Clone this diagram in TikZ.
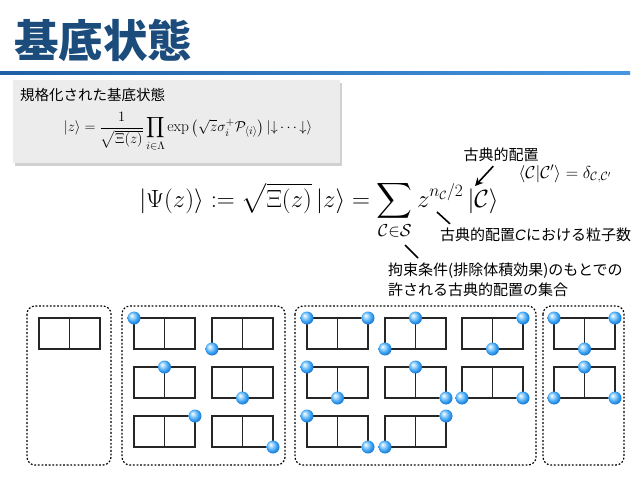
\documentclass[tikz,border=0pt]{standalone}
\usepackage{amsmath}
\usepackage{fontspec}
\newfontfamily\jpfont{Noto Sans CJK JP}
\newfontfamily\latinfont{Liberation Sans}
\usetikzlibrary{arrows.meta}

\definecolor{titleblue}{RGB}{27,76,124}
\definecolor{ruledark}{RGB}{30,95,165}
\definecolor{rulelight}{RGB}{70,150,225}
\definecolor{boxgray}{RGB}{236,236,236}
\definecolor{ballblue}{RGB}{55,160,242}
\definecolor{ballhigh}{RGB}{190,228,255}
\definecolor{balldark}{RGB}{20,110,200}

\pgfdeclareradialshading{sphere}{\pgfqpoint{-10bp}{10bp}}{%
    color(0bp)=(white); color(6bp)=(ballhigh); color(20bp)=(ballblue);
    color(30bp)=(balldark); color(50bp)=(balldark)}

\tikzset{
    jptext/.style={font=\jpfont\fontsize{15}{20}\selectfont, inner sep=0pt},
    dashbox/.style={line width=1.2pt, dash pattern=on 1.8pt off 1.8pt, rounded corners=8pt},
    cellline/.style={line width=1.3pt, black!85},
    pointer/.style={line width=1.6pt}
}

% two sites side by side
\newcommand{\unitpair}[2]{%
    \draw[cellline] (#1,#2) rectangle ++(61,31);
    \draw[cellline] (#1+30.5,#2) -- ++(0,31);
}
\newcommand{\particle}[2]{\shade[shading=sphere] (#1,#2) circle (6.5pt);}

\begin{document}
\begin{tikzpicture}[x=1pt,y=-1pt]
    \useasboundingbox (0,0) rectangle (638,479);

    % title
    \node[anchor=west, text=titleblue, inner sep=0pt] (title) at (14,40)
        {\jpfont\bfseries\fontsize{44.5}{44}\selectfont 基底状態};
    \shade[left color=ruledark, right color=rulelight] (0,71) rectangle (630,74);

    % normalised state
    \fill[black!18] (15,83) rectangle (342,166);
    \fill[boxgray] (13,80) rectangle (340,163);
    \node[jptext, anchor=west, font=\jpfont\fontsize{14.5}{17}\selectfont] (normlabel) at (20,95) {規格化された基底状態};
    \node[inner sep=0pt] (normeq) at (188,132) {\fontsize{15.5}{18}\selectfont
        $\displaystyle |z\rangle = \frac{1}{\sqrt{\Xi(z)}}\prod_{i\in\Lambda}
        \exp\left(\sqrt{z}\sigma_i^{+}\mathcal{P}_{\langle i\rangle}\right)|{\downarrow}\cdots{\downarrow}\rangle$};

    % main formula
    \node[anchor=base] (mainEq) at (319,207) {\fontsize{24}{30}\selectfont
        $\displaystyle |\Psi(z)\rangle := \sqrt{\Xi(z)}\,|z\rangle
        = \sum_{\mathcal{C}\in\mathcal{S}} z^{n_{\mathcal{C}}/2}\,|\mathcal{C}\rangle$};

    \node[jptext] (config) at (501,155) {古典的配置};
    \node[inner sep=0pt] (ortho) at (565,174) {\fontsize{18}{20}\selectfont
        $\langle\mathcal{C}|\mathcal{C}'\rangle = \delta_{\mathcal{C},\mathcal{C}'}$};
    \node[jptext, anchor=west] (number) at (440,235) {古典的配置{\latinfont\itshape C}における粒子数};
    \node[jptext, anchor=north west, align=left] (setS) at (388,263)
        {拘束条件(排除体積効果)のもとでの\\許される古典的配置の集合};

    \coordinate (ketC) at (475,186);
    \coordinate (expo) at (437,212);
    \coordinate (sumS) at (405,245);

    \draw[pointer, -{Stealth[length=8pt,width=8pt]}] ([xshift=30pt,yshift=-4pt]config.south west) -- (ketC);
    \draw[pointer] ([xshift=10pt,yshift=4pt]number.north west) -- (expo);
    \draw[pointer] ([xshift=30pt,yshift=5pt]setS.north west) -- (sumS);

    % sets of configurations
    \foreach \xa/\xb in {27/111, 122/285, 295/536, 543/624}
        \draw[dashbox] (\xa,306) rectangle (\xb,465);

    \unitpair{39}{318}
    \foreach \ux/\uy/\spec in {134/318/{0/0}, 212/318/{0/31},
                               134/367/{30.5/0}, 212/367/{30.5/31},
                               134/416/{61/0}, 212/416/{61/31},
                               307/318/{0/0,61/0}, 385/318/{30.5/0,0/31},
                               462/318/{61/0,30.5/31}, 307/367/{0/0,30.5/31},
                               385/367/{30.5/0,61/31}, 462/367/{0/31,61/31},
                               307/416/{0/0,61/31}, 385/416/{61/0,0/31},
                               554/318/{0/0,61/0,30.5/31},
                               554/367/{30.5/0,0/31,61/31}} {
        \unitpair{\ux}{\uy}
        \foreach \dx/\dy in \spec {
            \particle{\ux+\dx}{\uy+\dy}
        }
    }
\end{tikzpicture}
\end{document}
